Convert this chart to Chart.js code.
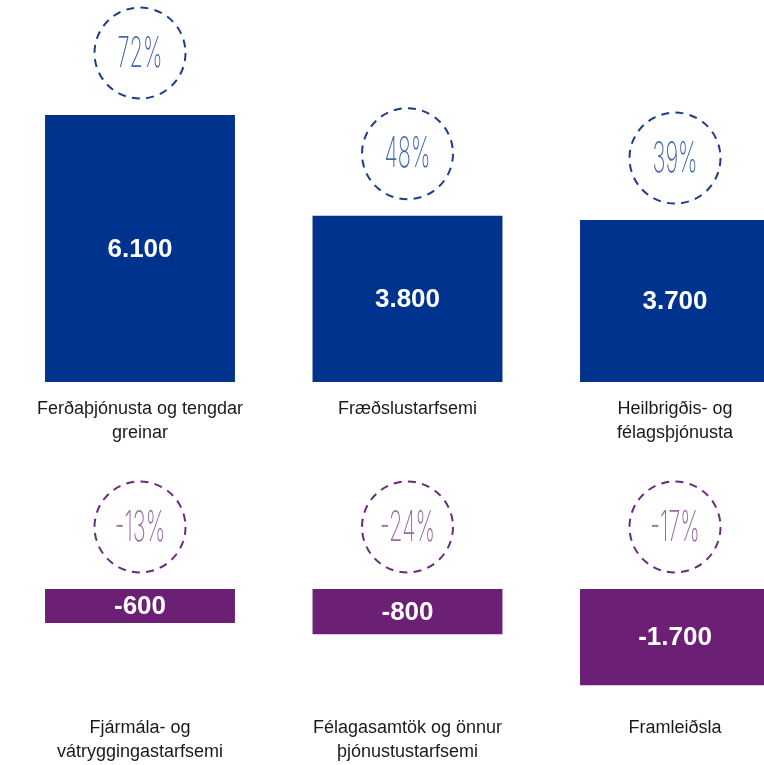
<!DOCTYPE html>
<html>
<head>
<meta charset="utf-8">
<script src="https://cdn.jsdelivr.net/npm/chart.js@4/dist/chart.umd.min.js"></script>
<style>
  html, body { margin: 0; padding: 0; background: #fff; overflow: hidden; }
  #top { position: absolute; left: 0; top: 0; width: 764px; height: 446px; }
  #bot { position: absolute; left: 0; top: 446px; width: 764px; height: 319px; }
</style>
</head>
<body>
<div id="top"><canvas id="c1"></canvas></div>
<div id="bot"><canvas id="c2"></canvas></div>
<script>
// ---- data ----
const growthCategories = [
  ['Ferðaþjónusta og tengdar', 'greinar'],
  ['Fræðslustarfsemi'],
  ['Heilbrigðis- og', 'félagsþjónusta']
];
const growthValues = [6100, 3800, 3700];
const growthPercents = [72, 48, 39];

const declineCategories = [
  ['Fjármála- og', 'vátryggingastarfsemi'],
  ['Félagasamtök og önnur', 'þjónustustarfsemi'],
  ['Framleiðsla']
];
const declineValues = [-600, -800, -1700];
const declinePercents = [-13, -24, -17];

// ---- helpers ----
function fmt(v) {
  const s = Math.abs(v).toString().replace(/\B(?=(\d{3})+(?!\d))/g, '.');
  return (v < 0 ? '-' : '') + s;
}

const circlePlugin = {
  id: 'circles',
  afterDatasetsDraw(chart, args, opts) {
    const ctx = chart.ctx;
    const meta = chart.getDatasetMeta(0);
    const pcts = opts.percents;
    meta.data.forEach((bar, i) => {
      const topY = Math.min(bar.y, bar.base);
      // value label
      ctx.save();
      ctx.fillStyle = '#ffffff';
      ctx.font = 'bold 26px "Liberation Sans", Arial, sans-serif';
      ctx.textAlign = 'center';
      ctx.textBaseline = 'middle';
      ctx.fillText(fmt(chart.data.datasets[0].data[i].y), bar.x, (bar.y + bar.base) / 2 + 1);
      ctx.restore();
      // dashed circle
      const cx = bar.x, cy = topY - 62, r = 45.5;
      ctx.save();
      ctx.strokeStyle = opts.ringColor;
      ctx.lineWidth = 2;
      ctx.setLineDash([8, 6.3]);
      ctx.beginPath();
      ctx.arc(cx, cy, r, 0, Math.PI * 2);
      ctx.stroke();
      ctx.restore();
      // percent text (condensed)
      ctx.save();
      ctx.translate(cx, cy);
      ctx.scale(0.52, 1);
      ctx.fillStyle = opts.textColor;
      ctx.font = '200 42px Inter, Roboto, sans-serif';
      ctx.textAlign = 'center';
      ctx.textBaseline = 'middle';
      ctx.fillText(pcts[i] + '%', 0, 1);
      ctx.restore();
    });
  }
};

function makeChart(id, cats, vals, pcts, color, ringColor, textColor, yMin, yMax, pad) {
  return new Chart(document.getElementById(id), {
    type: 'bar',
    data: {
      datasets: [{
        data: vals.map((v, i) => ({ x: i, y: v })),
        backgroundColor: color,
        borderWidth: 0,
        barPercentage: 1,
        categoryPercentage: 0.71
      }]
    },
    options: {
      responsive: true,
      maintainAspectRatio: false,
      animation: false,
      events: [],
      layout: { padding: 0 },
      plugins: {
        legend: { display: false },
        tooltip: { enabled: false },
        circles: { percents: pcts, ringColor: ringColor, textColor: textColor }
      },
      scales: {
        x: {
          type: 'linear',
          offset: false,
          min: -140 / 267.5,
          max: (764 - 140) / 267.5,
          grid: { display: false, drawTicks: false, offset: false },
          border: { display: false },
          afterBuildTicks: (scale) => { scale.ticks = cats.map((_, i) => ({ value: i })); },
          afterFit: (scale) => { scale.height = pad + 48; },
          ticks: {
            autoSkip: false,
            maxRotation: 0,
            padding: pad,
            color: '#1a1a1a',
            font: { family: '"Liberation Sans", Arial, sans-serif', size: 18, lineHeight: 1.28 },
            callback: (v) => cats[v]
          }
        },
        y: {
          display: false,
          min: yMin,
          max: yMax
        }
      }
    },
    plugins: [circlePlugin]
  });
}

makeChart('c1', growthCategories, growthValues, growthPercents,
  '#00338d', '#1d3c8a', '#4467b0', 0, 8730, 16);
makeChart('c2', declineCategories, declineValues, declinePercents,
  '#6c2075', '#6a2a7c', '#9a6aa8', -1817, 2522, 25);
</script>
</body>
</html>
